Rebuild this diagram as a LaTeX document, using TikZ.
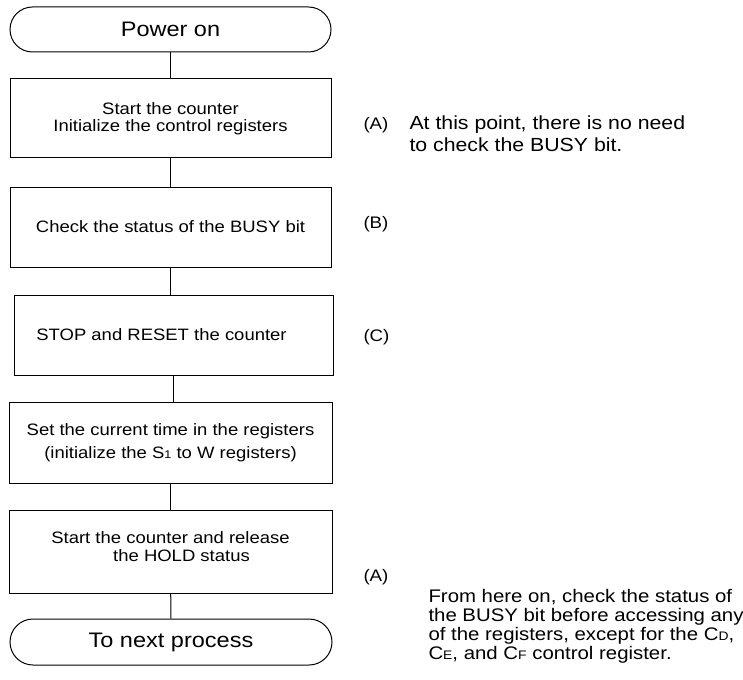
\documentclass[tikz,border=0pt]{standalone}
\usepackage{fontspec}
\setmainfont[FakeStretch=1.12]{Liberation Sans}
\usepackage{graphicx}
\usetikzlibrary{
	shapes.misc,
	positioning
}

% small letters sitting on the baseline (S1, CD, ...)
\newcommand\lowch[1]{\scalebox{0.68}{#1}}

\begin{document}
\begin{tikzpicture}[x=1pt, y=-1pt, line width=1pt,
    term/.style={draw, rounded rectangle, minimum width=321pt, minimum height=45pt,
        inner sep=0pt, font=\fontsize{21}{25}\selectfont},
    stepbox/.style={draw, rectangle, minimum width=321pt, minimum height=80pt,
        inner sep=0pt, align=center},
    tag/.style={anchor=base west, inner sep=0pt, font=\fontsize{16.7}{20}\selectfont},
    note/.style={anchor=base west, inner sep=0pt, align=left}]

\useasboundingbox (0,0) rectangle (743,679);

% Flow
\node[term] (power) at (170.5, 29.5) {Power on};
\node[stepbox, minimum height=79pt, font=\fontsize{16.5}{17}\selectfont] (init) at (170.5, 118.5)
    {Start the counter\\Initialize the control registers};
\node[stepbox, font=\fontsize{16.5}{17}\selectfont] (busy) at (170.5, 227)
    {\rule{0pt}{6pt}Check the status of the BUSY bit};
\node[stepbox, minimum width=319pt, font=\fontsize{16.5}{17}\selectfont] (stop) at (173.5, 335)
    {STOP and RESET the counter\hspace*{24pt}};
\node[stepbox, minimum width=323pt, minimum height=81pt, font=\fontsize{16.5}{23}\selectfont] (settime) at (170.5, 442.5)
    {Set the current time in the registers\\(initialize the S\lowch{1} to W registers)};
\node[stepbox, minimum width=323pt, minimum height=83pt, font=\fontsize{16.5}{18}\selectfont] (release) at (170.5, 551.5)
    {Start the counter and release\\\hspace*{22pt}the HOLD status\rule[-10pt]{0pt}{0pt}};
\node[term, minimum width=322pt, minimum height=46pt] (next) at (171, 642) {To next process};

% Connectors
\draw (power) -- (init);
\draw (init) -- (busy);
\draw (busy) -- (busy.south |- stop.north);
\draw (stop.south) -- (stop.south |- settime.north);
\draw (settime) -- (release);
\draw (release) -- (next);

% Remarks (multi-line notes sit on their last line)
\node[tag] (tagA) at (363, 129.5) {(A)};
\node[note, font=\fontsize{19}{22}\selectfont] (noteA) at (409, 152)
    {At this point, there is no need\\to check the BUSY bit.};
\node[tag] (tagB) at (363, 228) {(B)};
\node[tag] (tagC) at (363, 341) {(C)};
\node[tag] (tagA2) at (363, 581) {(A)};
\node[note, font=\fontsize{18.2}{18.7}\selectfont] (noteEnd) at (428, 659)
    {From here on, check the status of\\the BUSY bit before accessing any\\of the registers, except for the C\lowch{D},\\C\lowch{E}, and C\lowch{F} control register.};

\end{tikzpicture}
\end{document}
